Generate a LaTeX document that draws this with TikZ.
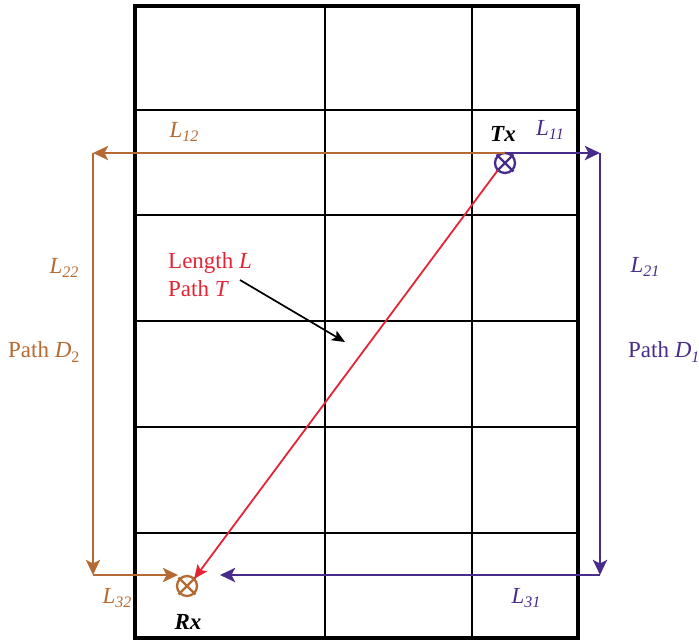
\documentclass[tikz,border=0pt]{standalone}
\usepackage{fontspec}
\setmainfont{Liberation Serif}
\usepackage{tikz}
\usetikzlibrary{arrows.meta,calc}
\definecolor{pathbrown}{RGB}{180,106,50}
\definecolor{pathpurple}{RGB}{72,44,140}
\definecolor{pathred}{RGB}{228,36,52}
\newcommand{\lsub}[1]{\raisebox{-0.45ex}{\fontsize{16}{16}\selectfont #1}}
\tikzset{
  frame/.style={line width=3.2pt},
  cellline/.style={line width=1.8pt},
  ant/.style={draw, circle, minimum size=20pt, inner sep=0pt, outer sep=0pt, line width=2.3pt},
  brownarrow/.style={-{Stealth[length=15pt,width=14pt,inset=3.5pt]}, line width=2.8pt, pathbrown},
  purplearrow/.style={-{Stealth[length=15pt,width=14pt,inset=3.5pt]}, line width=2.8pt, pathpurple},
  redarrow/.style={-{Stealth[length=14pt,width=12pt,inset=3pt]}, line width=1.8pt, pathred},
  pointer/.style={-{Stealth[length=13pt,width=11pt,inset=3pt]}, line width=1.7pt},
  lbl/.style={font=\fontsize{23}{28}\selectfont, inner sep=0pt}
}

\begin{document}
\begin{tikzpicture}[x=1pt, y=-1pt]
  \useasboundingbox (0,0) rectangle (699,642);

  \draw[frame] (135,6) rectangle (578,638);
  \foreach \xx in {325,472}
    \draw[cellline] (\xx,6) -- (\xx,638);
  \foreach \yy in {110,215,321,427,533}
    \draw[cellline] (135,\yy) -- (578,\yy);

  \node[ant, pathpurple] (tx) at (505,163) {};
  \node[ant, pathbrown] (rx) at (187,586) {};
  \draw[pathpurple, line width=2.3pt] ($(tx.center)!1.2!(tx.north west)$) -- ($(tx.center)!1.2!(tx.south east)$);
  \draw[pathpurple, line width=2.3pt] ($(tx.center)!1.2!(tx.north east)$) -- ($(tx.center)!1.2!(tx.south west)$);
  \draw[pathbrown, line width=2.3pt] ($(rx.center)!1.2!(rx.north west)$) -- ($(rx.center)!1.2!(rx.south east)$);
  \draw[pathbrown, line width=2.3pt] ($(rx.center)!1.2!(rx.north east)$) -- ($(rx.center)!1.2!(rx.south west)$);

  \coordinate (ltop) at (93,153);
  \coordinate (lbot) at (93,575);
  \coordinate (rtop) at (600,153);
  \coordinate (rbot) at (600,575);
  \coordinate (rxleft) at (178,575);
  \coordinate (rxright) at (220,575);
  \coordinate (ptr) at (240,280);
  \coordinate (ptrtip) at (345,342);

  \draw[brownarrow] (tx.north) -- (ltop);
  \draw[brownarrow] (ltop) -- (lbot);
  \draw[brownarrow] (lbot) -- (rxleft);
  \draw[purplearrow] (tx.north) -- (rtop);
  \draw[purplearrow] (rtop) -- (rbot);
  \draw[purplearrow] (rbot) -- (rxright);
  \draw[redarrow] (tx.south west) -- (rx.north east);
  \draw[pointer] (ptr) -- (ptrtip);

  \node[lbl] (txlbl) at (503,134) {\textbf{\textit{Tx}}};
  \node[lbl] (rxlbl) at (188,622) {\textbf{\textit{Rx}}};
  \node[lbl, pathbrown] (l12) at (184,132) {\textit{L}\lsub{\textit{12}}};
  \node[lbl, pathpurple] (l11) at (550,130) {\textit{L}\lsub{\textit{11}}};
  \node[lbl, pathbrown] (l22) at (64,268) {\textit{L}\lsub{\textit{22}}};
  \node[lbl, pathpurple] (l21) at (645,267) {\textit{L}\lsub{\textit{21}}};
  \node[lbl, pathbrown] (l32) at (117,598) {\textit{L}\lsub{\textit{32}}};
  \node[lbl, pathpurple] (l31) at (526,598) {\textit{L}\lsub{\textit{31}}};
  \node[lbl, pathbrown, anchor=west] (d2) at (8,352) {Path \textit{D}\lsub{2}};
  \node[lbl, pathpurple, anchor=west] (d1) at (628,352) {Path \textit{D}\lsub{\textit{1}}};
  \node[lbl, pathred, align=left, anchor=north west] (lpt) at (168,252) {Length \textit{L}\\Path \textit{T}};
\end{tikzpicture}
\end{document}
